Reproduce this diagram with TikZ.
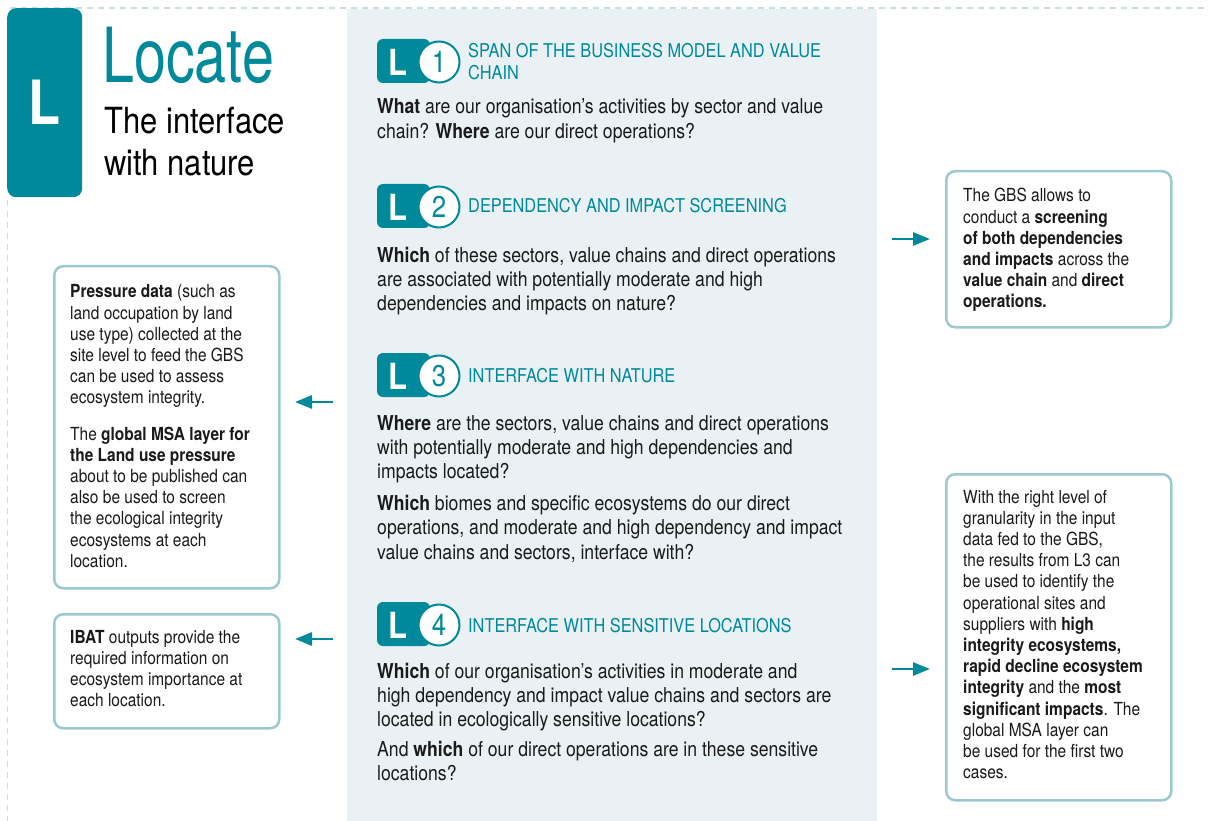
\documentclass[tikz,border=0pt]{standalone}
\usepackage{fontspec}
\usepackage{graphicx}
\setmainfont{TeX Gyre Heros}[FakeStretch=0.86]
\usetikzlibrary{arrows.meta}
\definecolor{tealc}{HTML}{00899A}
\definecolor{panelc}{HTML}{E9F1F4}
\definecolor{boxc}{HTML}{9CC8D0}
\definecolor{dashc}{HTML}{C8DEE3}
\definecolor{txtc}{HTML}{1A1A1A}
\newcommand{\mlines}[1]{\begin{tabular}[t]{@{}l@{}}#1\end{tabular}}
\tikzset{
  dashline/.style={draw=dashc, line width=1.6pt, dash pattern=on 6pt off 5pt},
  sidebox/.style={draw=boxc, line width=2.5pt, rounded corners=9pt, fill=white},
  sidetext/.style={anchor=base west, inner sep=0pt, text=txtc,
    font={\fontsize{18}{21.2}\selectfont}},
  bodytext/.style={anchor=base west, inner sep=0pt, text=txtc,
    font={\fontsize{20.5}{24.2}\selectfont}},
  titletext/.style={anchor=base west, inner sep=0pt, text=tealc,
    font={\fontsize{19}{22}\selectfont}},
  badgebox/.style={fill=tealc, rounded corners=6pt, minimum width=53pt,
    minimum height=44pt, inner sep=0pt},
  badgecirc/.style={circle, draw=tealc, line width=2pt, fill=white,
    minimum size=41pt, inner sep=0pt, text=tealc,
    font={\fontsize{30}{30}\selectfont}},
  badgeL/.style={text=white, inner sep=0pt, font={\bfseries\fontsize{36}{36}\selectfont}},
  arr/.style={draw=tealc, line width=2.8pt, -{Triangle[length=17pt,width=13pt]}},
}
\begin{document}
\begin{tikzpicture}[x=1pt,y=-1pt]
\useasboundingbox (0,0) rectangle (1208,821);
% panel and dashed frame
\fill[panelc] (347,9.5) rectangle (877,821);
\draw[dashline] (10,8) -- (1208,8);
\draw[dashline] (7.5,200) -- (7.5,821);
% big L box
\node[fill=tealc, rounded corners=9pt, minimum width=75pt, minimum height=189pt,
  inner sep=0pt, anchor=north west] (Lbox) at (7,8) {};
\node[text=white, inner sep=0pt, font={\bfseries\fontsize{61}{61}\selectfont}]
  (Lletter) at (44.5,102) {L};
% heading
\node[anchor=base west, inner sep=0pt, text=tealc, font={\fontsize{76}{76}\selectfont}]
  (loc) at (102,83) {\scalebox{0.88}[1]{Locate}};
\node[anchor=base west, inner sep=0pt, text=black,
  font={\fontsize{36}{42}\selectfont}] (sub) at (104,134) {\mlines{The interface\\with nature}};
% ---------- L1
\node[badgebox] (b1) at (403.5,61) {};
\node[badgecirc] (c1) at (439,62) {1};
\node[badgeL] (l1) at (398,62) {L};
\node[titletext] (t1) at (468,58) {\mlines{SPAN OF THE BUSINESS MODEL AND VALUE\\CHAIN}};
\node[bodytext] (q1) at (377,114) {\mlines{\textbf{What} are our organisation’s activities by sector and value\\chain? \textbf{Where} are our direct operations?}};
% ---------- L2
\node[badgebox] (b2) at (403.5,206) {};
\node[badgecirc] (c2) at (439,207) {2};
\node[badgeL] (l2) at (398,207) {L};
\node[titletext] (t2) at (468,213) {DEPENDENCY AND IMPACT SCREENING};
\node[bodytext] (q2) at (377,262) {\mlines{\textbf{Which} of these sectors, value chains and direct operations\\are associated with potentially moderate and high\\dependencies and impacts on nature?}};
% ---------- L3
\node[badgebox] (b3) at (403.5,375) {};
\node[badgecirc] (c3) at (439,376) {3};
\node[badgeL] (l3) at (398,376) {L};
\node[titletext] (t3) at (468,382) {INTERFACE WITH NATURE};
\node[bodytext] (q3) at (377,430) {\mlines{\textbf{Where} are the sectors, value chains and direct operations\\with potentially moderate and high dependencies and\\impacts located?\\[8pt]\textbf{Which} biomes and specific ecosystems do our direct\\operations, and moderate and high dependency and impact\\value chains and sectors, interface with?}};
% ---------- L4
\node[badgebox] (b4) at (403.5,624) {};
\node[badgecirc] (c4) at (439,625) {4};
\node[badgeL] (l4) at (398,625) {L};
\node[titletext] (t4) at (468,632) {INTERFACE WITH SENSITIVE LOCATIONS};
\node[bodytext] (q4) at (377,678) {\mlines{\textbf{Which} of our organisation’s activities in moderate and\\high dependency and impact value chains and sectors are\\located in ecologically sensitive locations?\\[6pt]And \textbf{which} of our direct operations are in these sensitive\\locations?}};
% ---------- side boxes
\node[sidebox, anchor=north west, minimum width=225pt, minimum height=156pt] (bA) at (945,170) {};
\node[sidetext] (tA) at (963,202) {\mlines{The GBS allows to\\conduct a \textbf{screening}\\\textbf{of both dependencies}\\\textbf{and impacts} across the\\\textbf{value chain} and \textbf{direct}\\\textbf{operations.}}};
\node[sidebox, anchor=north west, minimum width=225pt, minimum height=326pt] (bB) at (945,473) {};
\node[sidetext] (tB) at (963,503) {\mlines{With the right level of\\granularity in the input\\data fed to the GBS,\\the results from L3 can\\be used to identify the\\operational sites and\\suppliers with \textbf{high}\\\textbf{integrity ecosystems,}\\\textbf{rapid decline ecosystem}\\\textbf{integrity} and the \textbf{most}\\\textbf{significant impacts}. The\\global MSA layer can\\be used for the first two\\cases.}};
\node[sidebox, anchor=north west, minimum width=225pt, minimum height=322pt] (bC) at (53,265) {};
\node[sidetext] (tC) at (70,298) {\mlines{\textbf{Pressure data} (such as\\land occupation by land\\use type) collected at the\\site level to feed the GBS\\can be used to assess\\ecosystem integrity.\\[15pt]The \textbf{global MSA layer for}\\\textbf{the Land use pressure}\\about to be published can\\also be used to screen\\the ecological integrity\\ecosystems at each\\location.}};
\node[sidebox, anchor=north west, minimum width=225pt, minimum height=114pt] (bD) at (53,613) {};
\node[sidetext] (tD) at (70,643) {\mlines{\textbf{IBAT} outputs provide the\\required information on\\ecosystem importance at\\each location.}};
% arrows
\coordinate (aAs) at (892,239); \coordinate (aAe) at (930,239);
\draw[arr] (aAs) -- (aAe);
\coordinate (aBs) at (892,669); \coordinate (aBe) at (930,669);
\draw[arr] (aBs) -- (aBe);
\coordinate (aCs) at (333,402); \coordinate (aCe) at (295,402);
\draw[arr] (aCs) -- (aCe);
\coordinate (aDs) at (333,639); \coordinate (aDe) at (295,639);
\draw[arr] (aDs) -- (aDe);
\end{tikzpicture}
\end{document}
